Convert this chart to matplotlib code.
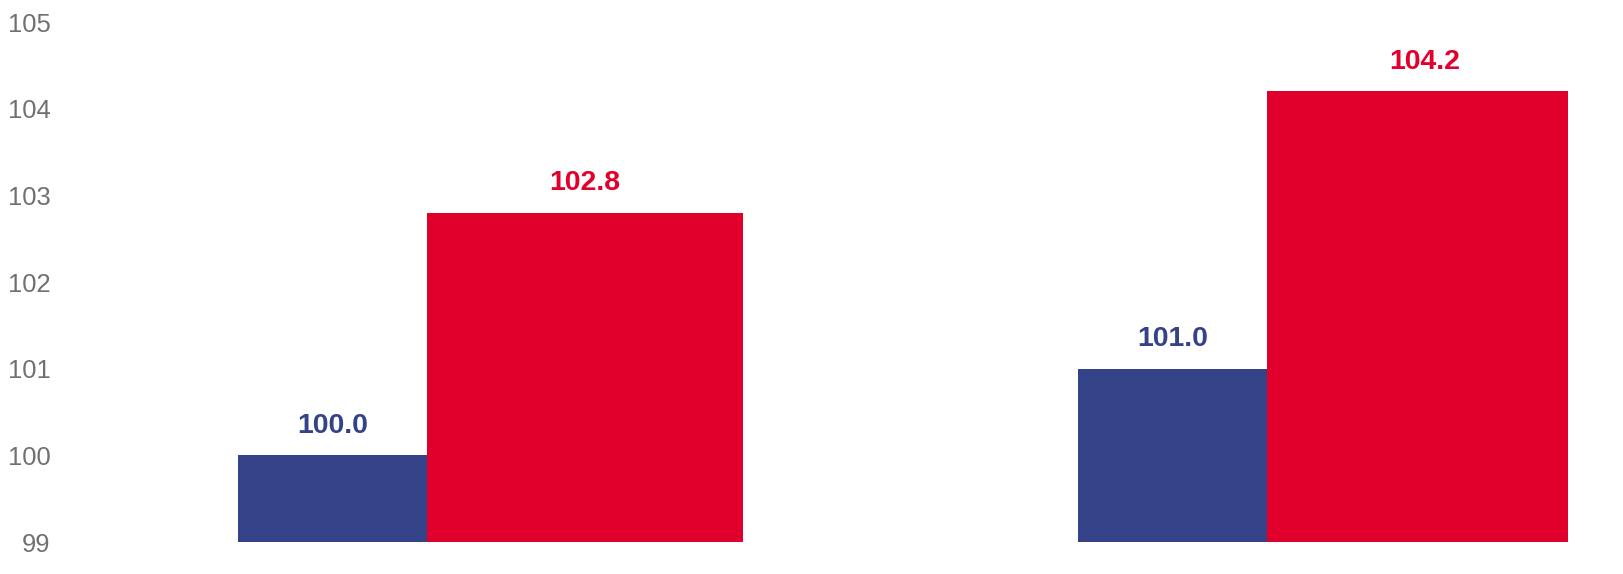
import numpy as np
import matplotlib
matplotlib.use("Agg")
import matplotlib.pyplot as plt

plt.rcParams['font.family'] = ['Liberation Sans', 'DejaVu Sans']

# data
groups = [0, 1]
blue_values = [100.0, 101.0]
red_values = [102.8, 104.2]
y_ticks = [99, 100, 101, 102, 103, 104, 105]

blue_color = '#344387'
red_color = '#E1002C'

fig = plt.figure(figsize=(16.24, 5.74), dpi=100)
ax = fig.add_axes([60 / 1624, 32 / 574, (1568 - 60) / 1624, 520 / 574])

x = np.array(groups, dtype=float)
blue_w = 0.225
red_w = 0.376
bars_b = ax.bar(x - 0.3, np.array(blue_values) - 99, bottom=99, width=blue_w,
                align='edge', color=blue_color, linewidth=0)
bars_r = ax.bar(x - 0.3 + blue_w, np.array(red_values) - 99, bottom=99, width=red_w,
                align='edge', color=red_color, linewidth=0)

for bars, vals, col in [(bars_b, blue_values, blue_color), (bars_r, red_values, red_color)]:
    for b, v in zip(bars, vals):
        ax.annotate(f'{v:.1f}', (b.get_x() + b.get_width() / 2, v),
                    xytext=(0, 12), textcoords='offset points',
                    ha='center', va='bottom', fontsize=20.5, fontweight='bold', color=col)

ax.set_ylim(99, 105)
ax.set_xlim(-0.512, 1.283)
ax.set_yticks(y_ticks)
ax.set_yticklabels([str(t) for t in y_ticks])
ax.set_xticks([])
ax.tick_params(axis='y', length=0, pad=7, labelsize=18.4, labelcolor='#707070')
for s in ax.spines.values():
    s.set_visible(False)

fig.savefig('out.png', dpi=100)
